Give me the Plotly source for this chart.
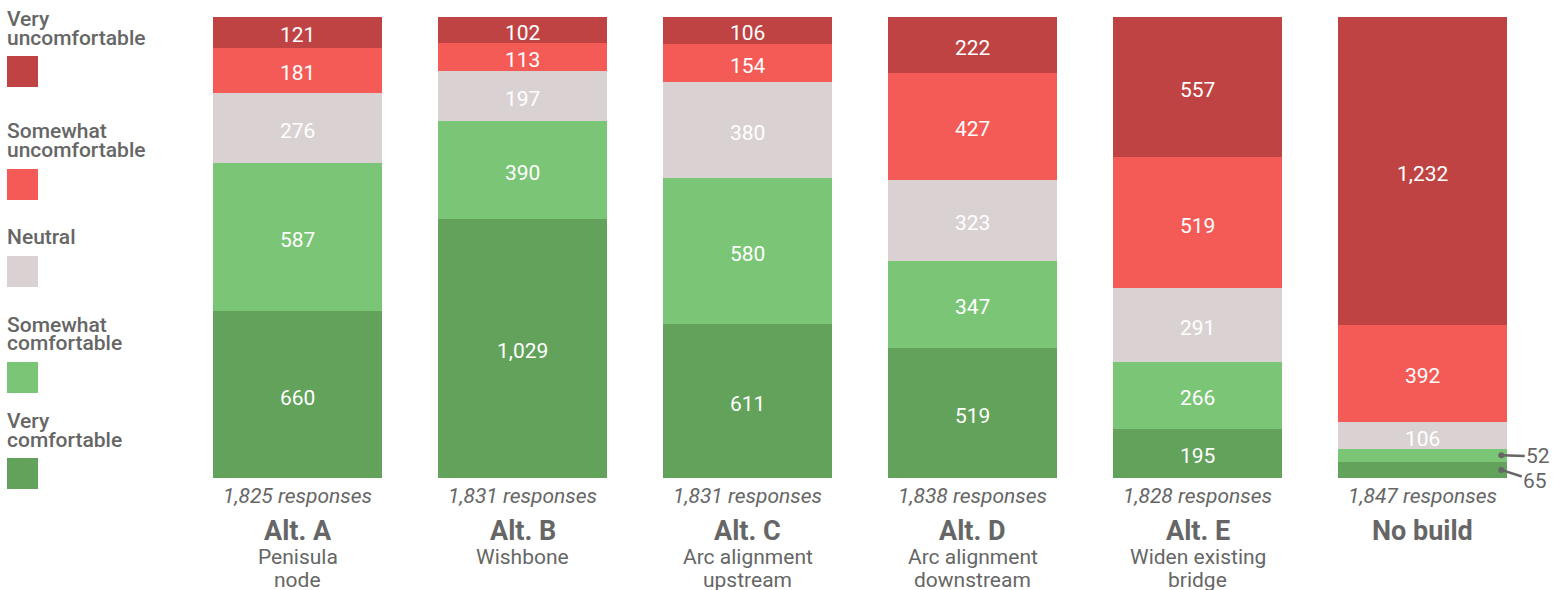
import plotly.graph_objects as go

categories = ["Alt. A", "Alt. B", "Alt. C", "Alt. D", "Alt. E", "No build"]
subtitles = [["Penisula", "node"], ["Wishbone"], ["Arc alignment", "upstream"],
             ["Arc alignment", "downstream"], ["Widen existing", "bridge"], []]
levels = ["Very comfortable", "Somewhat comfortable", "Neutral",
          "Somewhat uncomfortable", "Very uncomfortable"]
very_comfortable = [660, 1029, 611, 519, 195, 65]
somewhat_comfortable = [587, 390, 580, 347, 266, 52]
neutral = [276, 197, 380, 323, 291, 106]
somewhat_uncomfortable = [181, 113, 154, 427, 519, 392]
very_uncomfortable = [121, 102, 106, 222, 557, 1232]
colors = ["#62a25a", "#7bc576", "#dad2d2", "#f55b56", "#bf4343"]

series = [very_comfortable, somewhat_comfortable, neutral,
          somewhat_uncomfortable, very_uncomfortable]
totals = [sum(v) for v in zip(*series)]

W, H = 1554, 590
ML, MR, MT, MB = 185, 19, 17, 112
PW, PH = W - ML - MR, H - MT - MB
FONT = "Roboto"
GRAY = "#666666"
FS = 21

def px(x):
    return (x - ML) / PW

def py(y):
    return (H - MB - y) / PH

fig = go.Figure()
xs = list(range(len(categories)))
ann = []
base = [0] * len(categories)
for name, vals, col in zip(levels, series, colors):
    fig.add_trace(go.Bar(
        x=xs, y=vals, name=name, marker=dict(color=col, line=dict(width=0)),
        hoverinfo="skip", showlegend=False,
    ))
    for i, (v, t) in enumerate(zip(vals, totals)):
        mid = (base[i] + v / 2) / t
        base[i] += v
        if v / t > 0.04:
            ann.append(dict(x=i, y=mid, xref="x", yref="y", text=f"{v:,}",
                            showarrow=False, xanchor="center", yanchor="middle", yshift=-3,
                            font=dict(family=FONT, size=FS, color="white", weight=400)))

# below-bar labels
for i, (cat, subs, tot) in enumerate(zip(categories, subtitles, totals)):
    ann.append(dict(x=i, y=py(496), xref="x", yref="paper", text=f"<i>{tot:,} responses</i>",
                    showarrow=False, xanchor="center", yanchor="middle",
                    font=dict(family=FONT, size=FS, color=GRAY)))
    ann.append(dict(x=i, y=py(531), xref="x", yref="paper", text=f"<b>{cat}</b>",
                    showarrow=False, xanchor="center", yanchor="middle",
                    font=dict(family=FONT, size=27, color=GRAY)))
    for j, s in enumerate(subs):
        ann.append(dict(x=i, y=py(557 + 23 * j), xref="x", yref="paper", text=s,
                        showarrow=False, xanchor="center", yanchor="middle",
                        font=dict(family=FONT, size=FS, color=GRAY)))

# small value callouts for "No build"
nb = len(categories) - 1
y65 = (very_comfortable[nb] / 2) / totals[nb]
y52 = (very_comfortable[nb] + somewhat_comfortable[nb] / 2) / totals[nb]
for val, yy, ax, ay in [(very_comfortable[nb], y65, 34, 11), (somewhat_comfortable[nb], y52, 37, 1)]:
    ann.append(dict(x=nb + 0.35, y=yy, xref="x", yref="y", text=f"{val:,}",
                    showarrow=True, arrowhead=6, arrowsize=0.6, arrowwidth=2.5,
                    arrowcolor=GRAY, ax=ax, ay=ay, axref="pixel", ayref="pixel",
                    font=dict(family=FONT, size=FS, color=GRAY)))

# legend
legend_items = [
    (["Very", "uncomfortable"], [19, 38], (56, 87), colors[4]),
    (["Somewhat", "uncomfortable"], [131, 150], (169, 200), colors[3]),
    (["Neutral"], [237], (256, 287), colors[2]),
    (["Somewhat", "comfortable"], [325, 343], (362, 393), colors[1]),
    (["Very", "comfortable"], [421, 440], (458, 489), colors[0]),
]
shapes = []
for lines, ys, (y0, y1), col in legend_items:
    for t, yy in zip(lines, ys):
        ann.append(dict(x=px(5), y=py(yy), xref="paper", yref="paper", text=t,
                        showarrow=False, xanchor="left", yanchor="middle",
                        font=dict(family=FONT, size=FS, color=GRAY, weight=500)))
    shapes.append(dict(type="rect", xref="paper", yref="paper",
                       x0=px(7), x1=px(38), y0=py(y1), y1=py(y0),
                       fillcolor=col, line=dict(width=0)))

fig.update_layout(
    width=W, height=H, margin=dict(l=ML, r=MR, t=MT, b=MB),
    barmode="stack", barnorm="fraction", bargap=0.249,
    plot_bgcolor="white", paper_bgcolor="white",
    xaxis=dict(range=[-0.5, len(categories) - 0.5], showticklabels=False,
               showgrid=False, zeroline=False, showline=False, ticks="", fixedrange=True),
    yaxis=dict(range=[0, 1], showticklabels=False, showgrid=False,
               zeroline=False, showline=False, ticks="", fixedrange=True),
    annotations=ann, shapes=shapes,
    font=dict(family=FONT, color=GRAY),
)
fig.write_html("out.html", config={"displayModeBar": False},
               post_script="document.body.style.margin='0';document.body.style.overflow='hidden';")
